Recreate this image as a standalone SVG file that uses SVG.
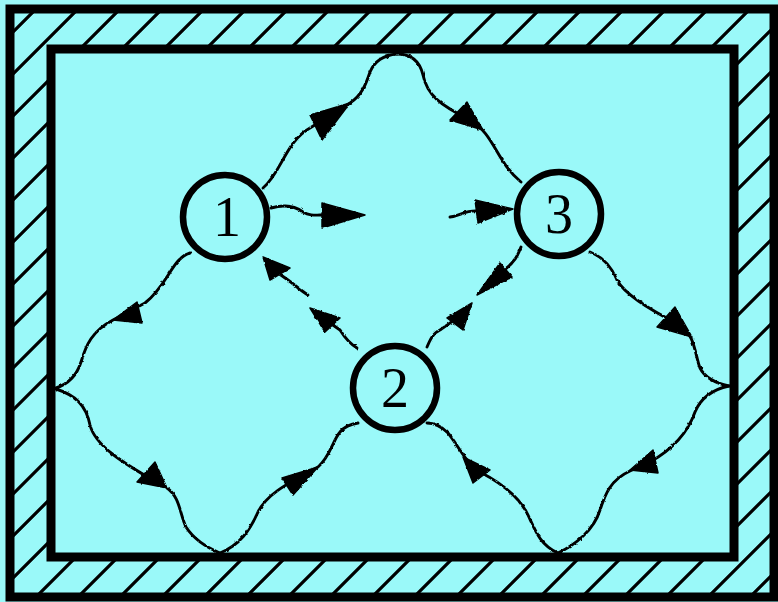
<svg xmlns="http://www.w3.org/2000/svg" width="778" height="602" viewBox="0 0 778 602">
<style>
.bg{fill:#9af9f9}
.wall{fill:none;stroke:#000;stroke-width:9}
.hatch{fill:none;stroke:#000;stroke-width:3.2}
.w{fill:none;stroke:#000;stroke-width:2.9;stroke-linecap:round;stroke-linejoin:round}
.ah{fill:#000;stroke:#000;stroke-width:1.5;stroke-linejoin:round}
.node{fill:#9af9f9;stroke:#000;stroke-width:6.5}
.lbl{font-family:"Liberation Serif","Times New Roman",serif;font-size:56px;text-anchor:middle;fill:#000}
</style>
<defs>
<clipPath id="band">
<path clip-rule="evenodd" d="M10,9 H774 V597 H10 Z M51,49 V557 H734 V49 Z"/>
</clipPath>
<filter id="rough" x="-5%" y="-5%" width="110%" height="110%">
<feTurbulence type="fractalNoise" baseFrequency="0.3" numOctaves="1" seed="4" result="n"/>
<feDisplacementMap in="SourceGraphic" in2="n" scale="2.8" xChannelSelector="R" yChannelSelector="G"/>
</filter>
</defs>
<rect class="bg" x="0" y="0" width="778" height="602"/>
<g id="walls">
<path class="hatch" clip-path="url(#band)" d="M-597,600 L3,0 M-555,600 L45,0 M-513,600 L87,0 M-471,600 L129,0 M-429,600 L171,0 M-387,600 L213,0 M-345,600 L255,0 M-303,600 L297,0 M-261,600 L339,0 M-219,600 L381,0 M-177,600 L423,0 M-135,600 L465,0 M-93,600 L507,0 M-51,600 L549,0 M-9,600 L591,0 M33,600 L633,0 M75,600 L675,0 M117,600 L717,0 M159,600 L759,0 M201,600 L801,0 M243,600 L843,0 M285,600 L885,0 M327,600 L927,0 M369,600 L969,0 M411,600 L1011,0 M453,600 L1053,0 M495,600 L1095,0 M537,600 L1137,0 M579,600 L1179,0 M621,600 L1221,0 M663,600 L1263,0 M705,600 L1305,0 M747,600 L1347,0 M789,600 L1389,0"/>
<rect class="wall" x="10" y="9" width="764" height="588"/>
<rect class="wall" x="51" y="49" width="683" height="508"/>
</g>
<g id="connectors" filter="url(#rough)">
<path class="w" d="M263,188 C282,172 285,142 310,128 L350,103 C362,95 366,84 370,72 C375,60 385,55 397,54"/>
<path class="w" d="M397,54 C412,54 420,62 423,75 C427,95 440,105 470,120 C495,135 495,160 521,182"/>
<path class="w" d="M190,253 C172,258 168,285 145,303 L113,320 C92,331 86,345 81,362 C77,375 68,384 56,388"/>
<path class="w" d="M56,389 C75,395 86,405 90,425 C95,445 120,462 167,488 C180,497 180,515 186,527 C195,541 208,548 220,553"/>
<path class="w" d="M220,553 C240,545 250,530 258,512 C266,496 282,486 318,467 C330,457 333,440 340,432 C345,426 351,424 358,423"/>
<path class="w" d="M558,553 C540,545 535,530 528,515 C520,498 505,485 480,472 C465,462 458,445 448,433 C440,425 433,423 427,423"/>
<path class="w" d="M729,386 C710,390 700,400 695,412 C688,432 675,448 650,462 L630,471 C610,480 605,495 600,510 C594,530 575,545 558,553"/>
<path class="w" d="M590,252 C605,258 612,268 617,280 C625,295 650,310 680,325 C695,335 695,355 700,368 C705,378 715,383 729,386"/>
<path class="w" d="M271,208 C285,204 295,206 303,212 C310,216 315,215 325,215"/>
<path class="w" d="M450,217 C460,216 465,210 478,211"/>
<path class="w" d="M357,348 C349,343 345,338 340,330 L330,323"/>
<path class="w" d="M308,295 C300,290 295,285 288,280 L278,273"/>
<path class="w" d="M427,347 C430,340 433,333 440,330 C446,326 450,323 457,318"/>
<path class="w" d="M521,247 C518,255 515,262 503,271"/>
<polygon class="ah" points="350,103 310,115 322,140"/>
<polygon class="ah" points="483,130 450,120 467,102"/>
<polygon class="ah" points="113,320 137,302 142,323"/>
<polygon class="ah" points="167,488 137,482 155,462"/>
<polygon class="ah" points="318,467 282,478 293,495"/>
<polygon class="ah" points="463,457 473,483 490,470"/>
<polygon class="ah" points="630,470 653,450 658,473"/>
<polygon class="ah" points="692,337 657,327 675,307"/>
<polygon class="ah" points="365,215 322,203 322,228"/>
<polygon class="ah" points="513,209 475,200 478,223"/>
<polygon class="ah" points="310,308 340,318 325,332"/>
<polygon class="ah" points="263,257 290,268 270,280"/>
<polygon class="ah" points="472,303 447,318 463,330"/>
<polygon class="ah" points="477,295 500,263 512,277"/>
</g>
<g id="node1"><circle class="node" cx="225" cy="217" r="42"/><text class="lbl" x="227" y="236">1</text></g>
<g id="node2"><circle class="node" cx="395" cy="388" r="42"/><text class="lbl" x="395" y="407">2</text></g>
<g id="node3"><circle class="node" cx="559" cy="214" r="42"/><text class="lbl" x="559" y="233">3</text></g>
</svg>
